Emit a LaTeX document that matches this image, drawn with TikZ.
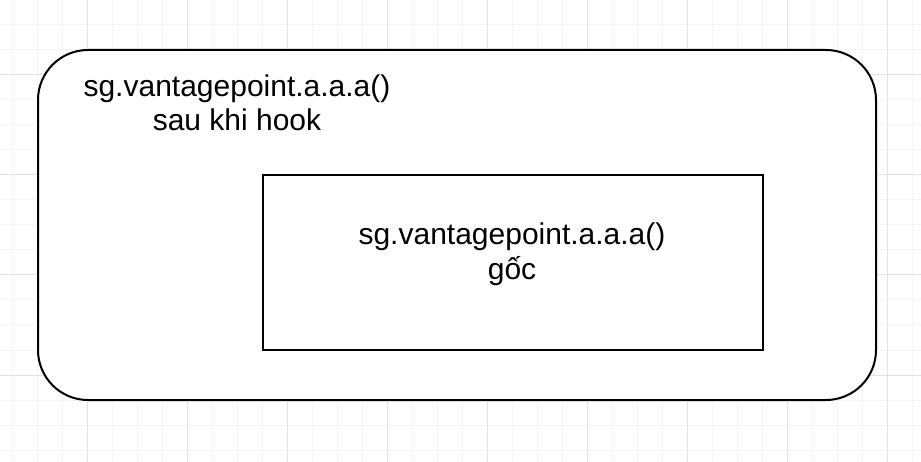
\documentclass[tikz,border=0pt]{standalone}
\usepackage{fontspec}
\setmainfont{Liberation Sans}
\begin{document}
\begin{tikzpicture}[x=1pt,y=-1pt,
  gridminor/.style={draw={rgb,255:red,244;green,244;blue,244},line width=1pt},
  gridmajor/.style={draw={rgb,255:red,226;green,226;blue,226},line width=1pt},
  outerbox/.style={draw=black,line width=2pt,rounded corners=50pt,minimum width=838pt,minimum height=350pt,inner sep=0pt,fill=white},
  innerbox/.style={draw=black,line width=2pt,minimum width=500pt,minimum height=175pt,inner sep=0pt,fill=white},
  lbl/.style={anchor=base,inner sep=0pt,font=\fontsize{30}{34}\selectfont}
]
\useasboundingbox (0,0) rectangle (921,462);
\fill[white] (0,0) rectangle (921,462);
% grid
\foreach \i in {0,...,36} {
  \draw[gridminor] (12+25*\i,0) -- (12+25*\i,462);
}
\foreach \j in {1,...,18} {
  \draw[gridminor] (0,25*\j) -- (921,25*\j);
}
\foreach \i in {0,...,8} {
  \draw[gridmajor] (87+100*\i,0) -- (87+100*\i,462);
}
\foreach \j in {0,...,3} {
  \draw[gridmajor] (0,75+100*\j) -- (921,75+100*\j);
}
% shapes
\node[outerbox] (outer) at (457,225) {};
\node[innerbox] (inner) at (513,262.5) {};
% labels
\node[lbl] (outerA) at (237,97) {sg.vantagepoint.a.a.a()};
\node[lbl] (outerB) at (237,131) {sau khi hook};
\node[lbl] (innerA) at (512,245) {sg.vantagepoint.a.a.a()};
\node[lbl] (innerB) at (512,280) {gốc};
\end{tikzpicture}
\end{document}
